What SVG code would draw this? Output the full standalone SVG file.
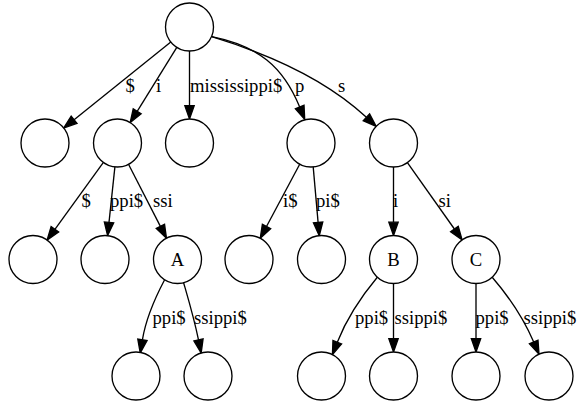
<svg xmlns="http://www.w3.org/2000/svg" width="577" height="403" viewBox="0 0 577 403">
<style>
.node circle{fill:#fff;stroke:#000;stroke-width:1.33}
.edge path{fill:none;stroke:#000;stroke-width:1.33;marker-end:url(#ah)}
text{font-family:"Liberation Serif","Times New Roman",serif;font-size:18.67px;fill:#000}
.nl{text-anchor:middle}
</style>
<defs>
<marker id="ah" markerUnits="userSpaceOnUse" viewBox="-1 -6 16 12" refX="0" refY="0" markerWidth="16" markerHeight="12" orient="auto" overflow="visible">
<path d="M0,-4.67 L13.3,0 L0,4.67 Z" fill="#000" stroke="#000" stroke-width="1.33"/>
</marker>
</defs>
<rect width="577" height="403" fill="#fff"/>
<g id="connectors">
<g class="edge" id="e_root_dollar"><path d="M170.8,42 L74.1,119.7"/><text x="125.5" y="91.5">$</text></g>
<g class="edge" id="e_root_i"><path d="M176.8,47.4 L137.2,111.3"/><text x="156" y="91.5">i</text></g>
<g class="edge" id="e_root_miss"><path d="M189.5,51 L189.5,105.7"/><text x="190" y="91.5">mississippi$</text></g>
<g class="edge" id="e_root_p"><path d="M211.7,36.7 C258,46 283,66 299.7,107.1"/><text x="295" y="91.5">p</text></g>
<g class="edge" id="e_root_s"><path d="M211.7,36.7 C262,52 322,76 366.4,117.3"/><text x="338" y="91.5">s</text></g>
<g class="edge" id="e_i_dollar"><path d="M103.4,162.4 L54.9,229.3"/><text x="81.5" y="207">$</text></g>
<g class="edge" id="e_i_ppi"><path d="M114.9,166.9 L109,222.4"/><text x="110" y="207">ppi$</text></g>
<g class="edge" id="e_i_ssi"><path d="M128.5,164.3 L160.4,226.4"/><text x="153" y="207">ssi</text></g>
<g class="edge" id="e_p_idollar"><path d="M299.7,164.2 L266.5,226.5"/><text x="283" y="207">i$</text></g>
<g class="edge" id="e_p_pidollar"><path d="M313.2,166.9 L318.1,222.4"/><text x="316" y="207">pi$</text></g>
<g class="edge" id="e_s_i"><path d="M393.5,167 L393.5,222.2"/><text x="393" y="207">i</text></g>
<g class="edge" id="e_s_si"><path d="M407.4,162.6 L454.4,229"/><text x="438.5" y="207">si</text></g>
<g class="edge" id="e_A_ppi"><path d="M164.5,280 C155,298 146,318 142.4,339.8"/><text x="152.5" y="323.5">ppi$</text></g>
<g class="edge" id="e_A_ssippi"><path d="M183.6,282.7 C188,298 194,318 198.5,339.9"/><text x="194" y="323.5">ssippi$</text></g>
<g class="edge" id="e_B_ppi"><path d="M377.5,277 C365,292 348,315 337.3,342.2"/><text x="355" y="323.5">ppi$</text></g>
<g class="edge" id="e_B_ssippi"><path d="M393.5,283.5 L393.5,338.7"/><text x="394.5" y="323.5">ssippi$</text></g>
<g class="edge" id="e_C_ppi"><path d="M476,283.5 L476,338.7"/><text x="475.5" y="323.5">ppi$</text></g>
<g class="edge" id="e_C_ssippi"><path d="M492.2,277.2 C505,292 522,315 533.7,342"/><text x="523.5" y="323.5">ssippi$</text></g>
</g>
<g class="node" id="root"><circle cx="189.5" cy="27" r="24"/></g>
<g class="node" id="n_dollar"><circle cx="45" cy="143" r="24"/></g>
<g class="node" id="n_i"><circle cx="117.5" cy="143" r="24"/></g>
<g class="node" id="n_mississippi"><circle cx="189.5" cy="143" r="24"/></g>
<g class="node" id="n_p"><circle cx="311" cy="143" r="24"/></g>
<g class="node" id="n_s"><circle cx="393.5" cy="143" r="24"/></g>
<g class="node" id="n_i_dollar"><circle cx="33" cy="259.5" r="24"/></g>
<g class="node" id="n_i_ppi"><circle cx="105" cy="259.5" r="24"/></g>
<g class="node" id="A"><circle cx="177.5" cy="259.5" r="24"/><text class="nl" x="177.5" y="266">A</text></g>
<g class="node" id="n_p_i"><circle cx="249" cy="259.5" r="24"/></g>
<g class="node" id="n_p_pi"><circle cx="321.5" cy="259.5" r="24"/></g>
<g class="node" id="B"><circle cx="393.5" cy="259.5" r="24"/><text class="nl" x="393.5" y="266">B</text></g>
<g class="node" id="C"><circle cx="476" cy="259.5" r="24"/><text class="nl" x="476" y="266">C</text></g>
<g class="node" id="A_ppi"><circle cx="136" cy="376" r="24"/></g>
<g class="node" id="A_ssippi"><circle cx="208" cy="376" r="24"/></g>
<g class="node" id="B_ppi"><circle cx="321.5" cy="376" r="24"/></g>
<g class="node" id="B_ssippi"><circle cx="393.5" cy="376" r="24"/></g>
<g class="node" id="C_ppi"><circle cx="476" cy="376" r="24"/></g>
<g class="node" id="C_ssippi"><circle cx="549" cy="376" r="24"/></g>
</svg>
